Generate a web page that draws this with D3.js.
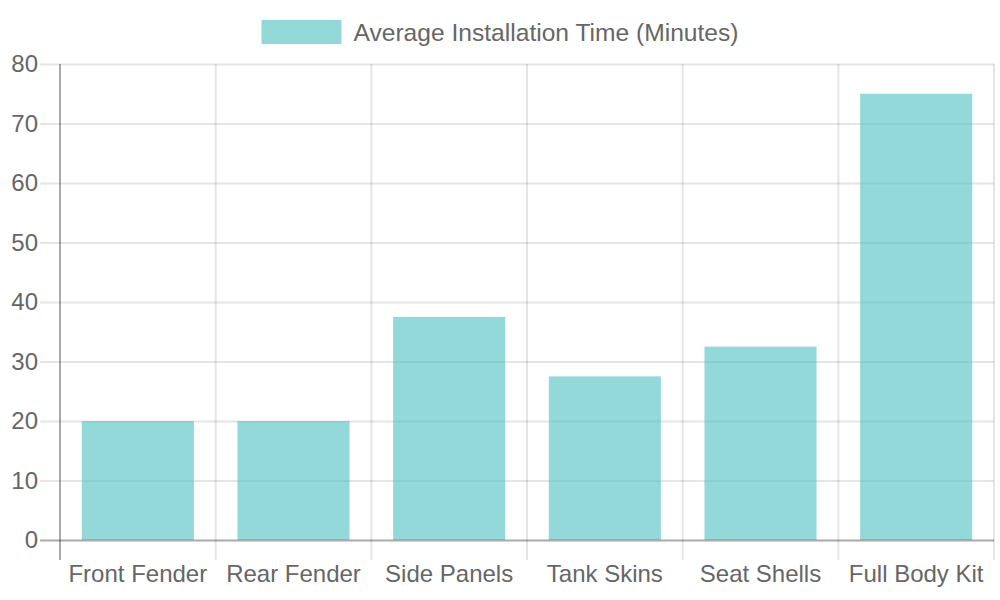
<!DOCTYPE html>
<html>
<head>
<meta charset="utf-8">
<script src="https://cdn.jsdelivr.net/npm/d3@7"></script>
<style>
  body { margin: 0; background: #fff; }
  text { font-family: "Liberation Sans", Arial, sans-serif; fill: #666; }
</style>
</head>
<body>
<div id="chart"></div>
<script>
var categories = ["Front Fender", "Rear Fender", "Side Panels", "Tank Skins", "Seat Shells", "Full Body Kit"];
var installMinutes = [20, 20, 37.5, 27.5, 32.5, 75];
var yTicks = [0, 10, 20, 30, 40, 50, 60, 70, 80];
var seriesName = "Average Installation Time (Minutes)";

var svgWidth = 1000;
var svgHeight = 600;
var margin = { top: 64, right: 6, bottom: 60, left: 60 };
var width = svgWidth - margin.left - margin.right;
var height = svgHeight - margin.top - margin.bottom;

var svg = d3.select("#chart")
  .append("svg")
  .attr("width", svgWidth)
  .attr("height", svgHeight);

var chartGroup = svg.append("g")
  .attr("transform", `translate(${margin.left}, ${margin.top})`);

var xScale = d3.scaleBand()
  .domain(categories)
  .range([0, width])
  .paddingInner(0)
  .paddingOuter(0);

var yScale = d3.scaleLinear()
  .domain([0, 80])
  .range([height, 0]);

// horizontal grid + y tick marks
chartGroup.append("g")
  .selectAll("line")
  .data(yTicks)
  .enter()
  .append("line")
  .attr("x1", -20)
  .attr("x2", width)
  .attr("y1", d => yScale(d) + 0.5)
  .attr("y2", d => yScale(d) + 0.5)
  .attr("stroke", "rgba(0,0,0,0.1)")
  .attr("stroke-width", 2);

// vertical grid at band edges
var edges = categories.map(c => xScale(c)).concat([width]);
chartGroup.append("g")
  .selectAll("line")
  .data(edges)
  .enter()
  .append("line")
  .attr("x1", d => d)
  .attr("x2", d => d)
  .attr("y1", 0)
  .attr("y2", height + 20)
  .attr("stroke", "rgba(0,0,0,0.1)")
  .attr("stroke-width", 2);

// bars
var barW = xScale.bandwidth() * 0.72;
chartGroup.append("g")
  .selectAll("rect")
  .data(installMinutes)
  .enter()
  .append("rect")
  .attr("x", (d, i) => xScale(categories[i]) + (xScale.bandwidth() - barW) / 2)
  .attr("y", d => yScale(d))
  .attr("width", barW)
  .attr("height", d => height - yScale(d))
  .attr("fill", "rgba(75,192,192,0.6)");

// axis lines
chartGroup.append("line")
  .attr("x1", 0).attr("x2", 0)
  .attr("y1", 0).attr("y2", height + 20)
  .attr("stroke", "rgba(0,0,0,0.25)")
  .attr("stroke-width", 2);

chartGroup.append("line")
  .attr("x1", -20).attr("x2", width)
  .attr("y1", height + 0.5).attr("y2", height + 0.5)
  .attr("stroke", "rgba(0,0,0,0.25)")
  .attr("stroke-width", 2);

// y labels
chartGroup.append("g")
  .selectAll("text")
  .data(yTicks)
  .enter()
  .append("text")
  .attr("x", -22)
  .attr("y", d => yScale(d))
  .attr("dy", "0.35em")
  .attr("text-anchor", "end")
  .style("font-size", "24px")
  .text(d => d);

// x labels
chartGroup.append("g")
  .selectAll("text")
  .data(categories)
  .enter()
  .append("text")
  .attr("x", d => xScale(d) + xScale.bandwidth() / 2)
  .attr("y", height + 42)
  .attr("text-anchor", "middle")
  .style("font-size", "24px")
  .text(d => d);

// legend
var legend = svg.append("g");
var legendText = legend.append("text")
  .attr("y", 32)
  .attr("dy", "0.35em")
  .style("font-size", "24.6px")
  .text(seriesName);
var tw = legendText.node().getComputedTextLength();
var totalW = 80 + 12 + tw;
var lx = svgWidth / 2 - totalW / 2;
legend.append("rect")
  .attr("x", lx)
  .attr("y", 20)
  .attr("width", 80)
  .attr("height", 24)
  .attr("fill", "rgba(75,192,192,0.6)");
legendText.attr("x", lx + 92);
</script>
</body>
</html>
